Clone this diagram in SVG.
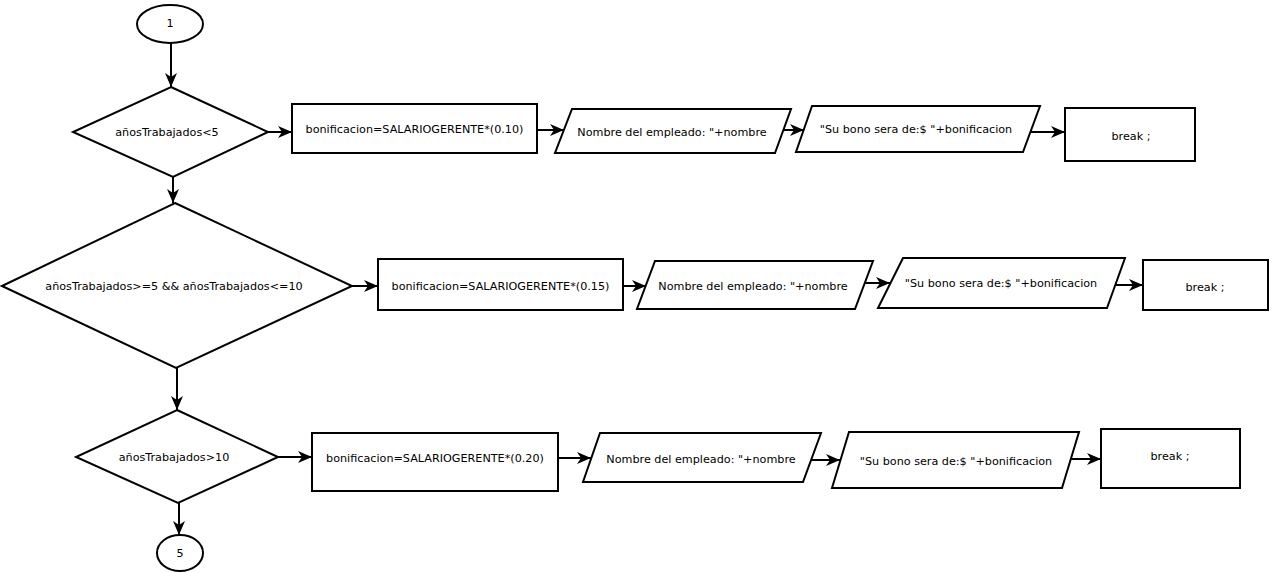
<svg xmlns="http://www.w3.org/2000/svg" width="1275" height="573" viewBox="0 0 1275 573">
<style>
.s{fill:#fff;stroke:#000;stroke-width:2}
.t{font-family:"DejaVu Sans",Verdana,sans-serif;font-size:11.2px;fill:#000;text-anchor:middle;dominant-baseline:central}
.c{fill:none;stroke:#000;stroke-width:2;marker-end:url(#ah)}
</style>
<defs>
<marker id="ah" markerUnits="userSpaceOnUse" markerWidth="15" markerHeight="13" refX="14" refY="6.5" orient="auto" viewBox="0 0 15 13">
<path d="M0,0.5 L14,6.5 L0,12.5 L4,6.5 z" fill="#000"/>
</marker>
</defs>
<rect width="1275" height="573" fill="#fff"/>
<g id="connectors">
<path class="c" d="M171,43 V87"/>
<path class="c" d="M268,132 H292"/>
<path class="c" d="M537,130 H564"/>
<path class="c" d="M783,130 H804"/>
<path class="c" d="M1030,132 H1065"/>
<path class="c" d="M173,177 V203"/>
<path class="c" d="M352,286 H378"/>
<path class="c" d="M623,286 H646"/>
<path class="c" d="M865,283 H890"/>
<path class="c" d="M1115,285 H1143"/>
<path class="c" d="M177,368 V410"/>
<path class="c" d="M278,457 H312"/>
<path class="c" d="M558,458 H591"/>
<path class="c" d="M811,460 H840"/>
<path class="c" d="M1071,459 H1101"/>
<path class="c" d="M179,503 V535"/>
</g>
<g id="n1"><ellipse class="s" cx="170" cy="24" rx="33" ry="19"/><text class="t" x="170" y="23">1</text></g>
<g id="d1"><polygon class="s" points="171,87 268,132 173,177 73,132"/><text class="t" x="167" y="132">añosTrabajados&lt;5</text></g>
<g id="r1"><rect class="s" x="292" y="104" width="245" height="49"/><text class="t" x="414.5" y="129">bonificacion=SALARIOGERENTE*(0.10)</text></g>
<g id="p1"><polygon class="s" points="572,109 791,109 775,153 555,153"/><text class="t" x="672" y="132">Nombre del empleado: "+nombre</text></g>
<g id="p2"><polygon class="s" points="812,106 1040,106 1023,152 796,152"/><text class="t" x="916" y="129">"Su bono sera de:$ "+bonificacion</text></g>
<g id="b1"><rect class="s" x="1065" y="108" width="130" height="53"/><text class="t" x="1131" y="136">break ;</text></g>
<g id="d2"><polygon class="s" points="175,203 352,286 176,368 2,286"/><text class="t" x="174" y="286">añosTrabajados&gt;=5 &amp;&amp; añosTrabajados&lt;=10</text></g>
<g id="r2"><rect class="s" x="378" y="259" width="245" height="51"/><text class="t" x="500.5" y="286">bonificacion=SALARIOGERENTE*(0.15)</text></g>
<g id="p3"><polygon class="s" points="655,261 873,261 855,309 637,309"/><text class="t" x="753" y="286">Nombre del empleado: "+nombre</text></g>
<g id="p4"><polygon class="s" points="903,258 1125,258 1107,308 878,308"/><text class="t" x="1001" y="283">"Su bono sera de:$ "+bonificacion</text></g>
<g id="b2"><rect class="s" x="1143" y="260" width="125" height="50"/><text class="t" x="1205" y="287">break ;</text></g>
<g id="d3"><polygon class="s" points="177,410 278,457 178,503 76,457"/><text class="t" x="174" y="457">añosTrabajados&gt;10</text></g>
<g id="r3"><rect class="s" x="312" y="433" width="246" height="58"/><text class="t" x="435" y="458">bonificacion=SALARIOGERENTE*(0.20)</text></g>
<g id="p5"><polygon class="s" points="600,433 821,433 803,482 583,482"/><text class="t" x="701" y="459">Nombre del empleado: "+nombre</text></g>
<g id="p6"><polygon class="s" points="849,432 1079,432 1062,488 832,488"/><text class="t" x="956" y="461">"Su bono sera de:$ "+bonificacion</text></g>
<g id="b3"><rect class="s" x="1101" y="429" width="139" height="59"/><text class="t" x="1170" y="456">break ;</text></g>
<g id="n5"><ellipse class="s" cx="180" cy="553" rx="23" ry="18"/><text class="t" x="180" y="553">5</text></g>
</svg>
